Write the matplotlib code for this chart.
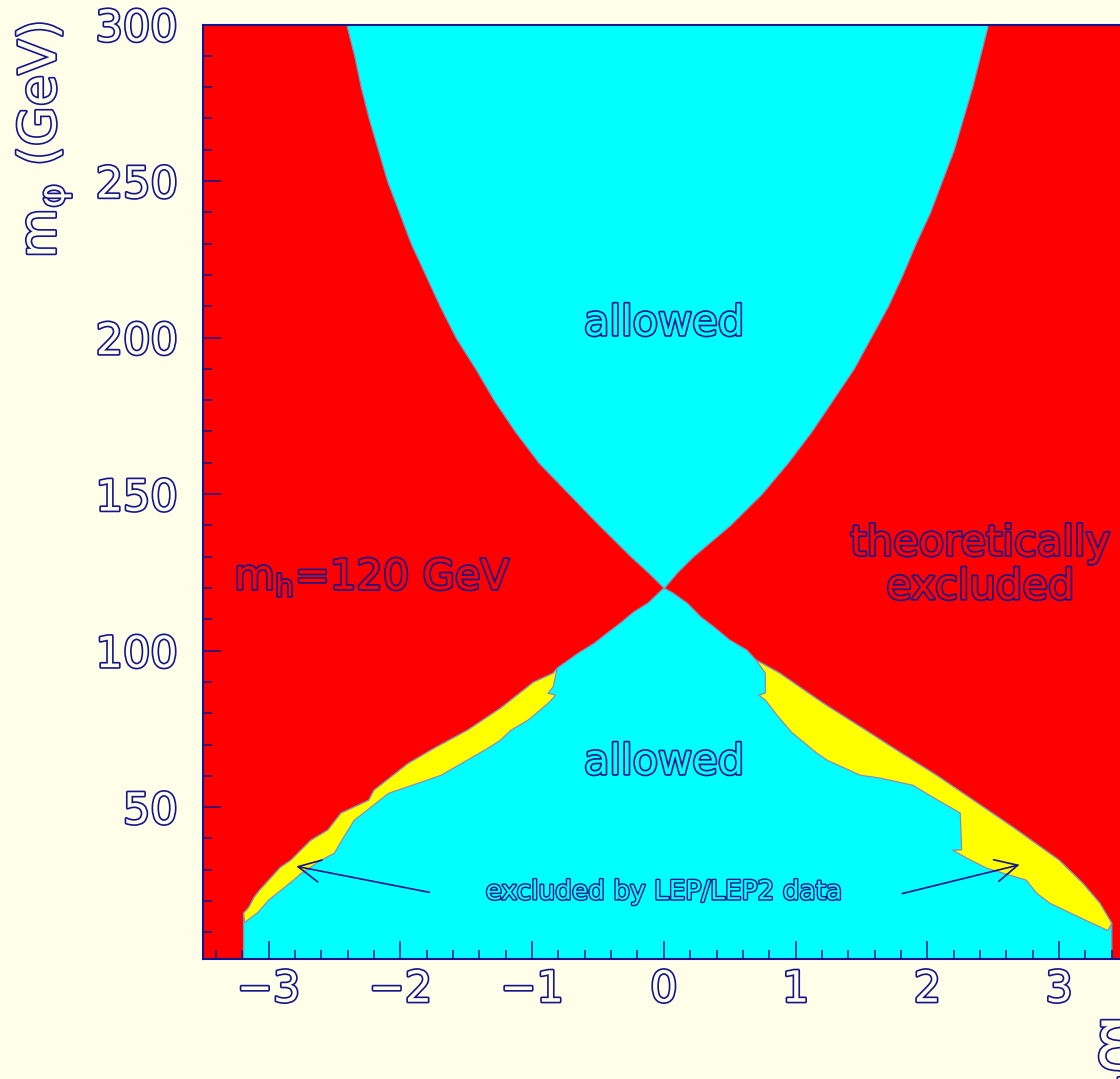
import matplotlib
matplotlib.use("Agg")
import matplotlib.pyplot as plt
import matplotlib.patheffects as pe
from matplotlib.ticker import MultipleLocator
import numpy as np

NAVY = "#14148c"
PAPER = "#fffee8"
RED = "#ff0000"
CYAN = "#00ffff"
YELLOW = "#ffff00"

M_MIN = 1.5

# allowed funnel above m_h: xi limits vs m_phi
m_up = [300, 290, 280, 270, 260, 250, 240, 230, 220, 210, 200, 190, 180,
        170, 160, 150, 140, 130, 125, 120]
xi_up_left = [-2.41, -2.35, -2.30, -2.24, -2.17, -2.10, -2.01, -1.92, -1.81,
              -1.70, -1.58, -1.43, -1.29, -1.13, -0.95, -0.72, -0.49, -0.25,
              -0.12, 0.0]
xi_up_right = [2.46, 2.40, 2.34, 2.27, 2.20, 2.11, 2.02, 1.91, 1.81, 1.70,
               1.57, 1.44, 1.28, 1.12, 0.94, 0.74, 0.50, 0.22, 0.10, 0.0]

# theoretical limit below m_h, xi < 0 side (top to bottom)
lo_left_xi = [0.0, -0.04, -0.12, -0.23, -0.33, -0.43, -0.53, -0.65, -0.81,
              -0.84, -0.99, -1.24, -1.49, -1.74, -1.94, -2.20, -2.24, -2.45,
              -2.55, -2.68, -2.83, -2.91, -3.07, -3.11, -3.15, -3.19, -3.19]
lo_left_m = [120, 118.4, 115.2, 112.3, 108.8, 105.6, 102.3, 99.2, 94.4,
             92.8, 89.9, 81.6, 74.6, 68.9, 64.0, 55.4, 52.2, 48.1,
             42.7, 39.4, 33.1, 30.8, 23.4, 21.2, 18.0, 16.1, M_MIN]

# theoretical limit below m_h, xi > 0 side (top to bottom)
lo_right_xi = [0.0, 0.07, 0.18, 0.28, 0.38, 0.50, 0.63, 0.70, 0.88, 1.21,
               1.51, 1.79, 2.07, 2.35, 2.65, 3.00, 3.18, 3.31, 3.40, 3.40]
lo_right_m = [120, 118.4, 115.1, 110.8, 107.6, 103.4, 100.2, 97.0, 92.8, 83.2,
              75.2, 67.6, 60.2, 52.2, 43.6, 33.1, 25.7, 19.3, 12.9, M_MIN]

# inner edge of the LEP excluded strips (top to bottom)
lep_left_xi = [-0.81, -0.84, -0.88, -0.82, -0.88, -1.03, -1.16, -1.24, -1.32,
               -1.69, -1.84, -2.09, -2.35, -2.43, -2.50, -2.60, -2.75, -2.81,
               -3.00, -3.08, -3.18]
lep_left_m = [94.4, 88.4, 86.4, 85.8, 83.1, 77.8, 74.6, 71.4, 69.2,
              60.2, 58.0, 54.4, 45.8, 40.4, 35.3, 33.1, 28.9, 26.7,
              20.3, 16.4, 13.2]
lep_right_xi = [0.70, 0.77, 0.77, 0.72, 0.77, 0.87, 0.97, 1.16, 1.24, 1.49,
                1.64, 1.89, 2.04, 2.25, 2.26, 2.19, 2.30, 2.45, 2.75, 2.83,
                2.93, 3.25, 3.37]
lep_right_m = [97.0, 92.8, 86.4, 85.8, 84.2, 78.8, 73.9, 67.3, 65.0, 60.2,
               59.3, 57.0, 53.2, 48.1, 36.3, 36.3, 33.7, 30.5, 26.7, 22.5,
               19.3, 12.9, 10.6]


def strip(outer_xi, outer_m, inner_xi, inner_m):
    ox = np.asarray(outer_xi)
    om = np.asarray(outer_m)
    keep = (om <= max(inner_m)) & (om >= min(inner_m))
    xs = list(ox[keep]) + list(inner_xi[::-1])
    ms = list(om[keep]) + list(inner_m[::-1])
    return xs, ms


def hollow(lw=2.4):
    return [pe.Stroke(linewidth=lw, foreground=NAVY), pe.Normal()]


fig = plt.figure(figsize=(11.2, 10.79), dpi=100, facecolor=PAPER)
ax = fig.add_axes([202.7 / 1120, 120 / 1079, 922.3 / 1120, 934.5 / 1079])
ax.set_facecolor(RED)
ax.set_xlim(-3.5, 3.5)
ax.set_ylim(M_MIN, 300)

edge = dict(edgecolor="#8c8cb4", linewidth=0.9)
ax.fill_betweenx(m_up, xi_up_left, xi_up_right, facecolor=CYAN, **edge)
ax.fill(lo_right_xi + lo_left_xi[::-1], lo_right_m + lo_left_m[::-1],
        facecolor=CYAN, **edge)
for ox, om, ix, im in [(lo_left_xi, lo_left_m, lep_left_xi, lep_left_m),
                       (lo_right_xi, lo_right_m, lep_right_xi, lep_right_m)]:
    xs, ms = strip(ox, om, ix, im)
    ax.fill(xs, ms, facecolor=YELLOW, **edge)

# region labels
ax.text(0, 204.6, "allowed", fontsize=30, ha="center", va="center",
        color=CYAN, path_effects=hollow())
ax.text(0, 64.4, "allowed", fontsize=30, ha="center", va="center",
        color=CYAN, path_effects=hollow())
ax.text(-3.26, 123.5, r"$\mathrm{m_h}$=120 GeV", fontsize=30, ha="left",
        va="center", color=RED, path_effects=hollow())
ax.text(2.40, 127.3, "theoretically\nexcluded", fontsize=30, ha="center",
        va="center", linespacing=1.05, color=RED, path_effects=hollow())
ax.text(0, 22.8, "excluded by LEP/LEP2 data", fontsize=19, ha="center",
        va="center", color=CYAN, path_effects=hollow(2.0))

arrow = dict(arrowstyle="->", color=NAVY, lw=1.2, mutation_scale=40,
             shrinkA=0, shrinkB=0)
ax.annotate("", xy=(-2.79, 31.1), xytext=(-1.78, 22.8), arrowprops=arrow)
ax.annotate("", xy=(2.70, 31.6), xytext=(1.81, 22.4), arrowprops=arrow)

# axes styling
ax.xaxis.set_major_locator(MultipleLocator(1))
ax.xaxis.set_minor_locator(MultipleLocator(0.2))
ax.yaxis.set_major_locator(MultipleLocator(50))
ax.yaxis.set_minor_locator(MultipleLocator(10))
ax.tick_params(which="both", direction="in", color=NAVY, width=1.1,
               labelcolor=PAPER, labelsize=31)
ax.tick_params(which="major", length=13)
ax.tick_params(which="minor", length=6.5)
ax.tick_params(axis="y", pad=18)
ax.tick_params(axis="x", pad=7)
for lab in ax.get_xticklabels() + ax.get_yticklabels():
    lab.set_path_effects(hollow())
for sp in ax.spines.values():
    sp.set_color(NAVY)
    sp.set_linewidth(1.5)

fig.text(44 / 1120, 1 - 22 / 1079, r"$\mathrm{m_\varphi}$ (GeV)", rotation=90,
         fontsize=37, ha="center", va="top", color=PAPER,
         path_effects=hollow())
fig.text(1096 / 1120, 1 - 1020 / 1079, "ξ", fontsize=46, ha="left", va="top",
         color=PAPER, path_effects=hollow())

fig.savefig("out.png", dpi=100, facecolor=PAPER)
